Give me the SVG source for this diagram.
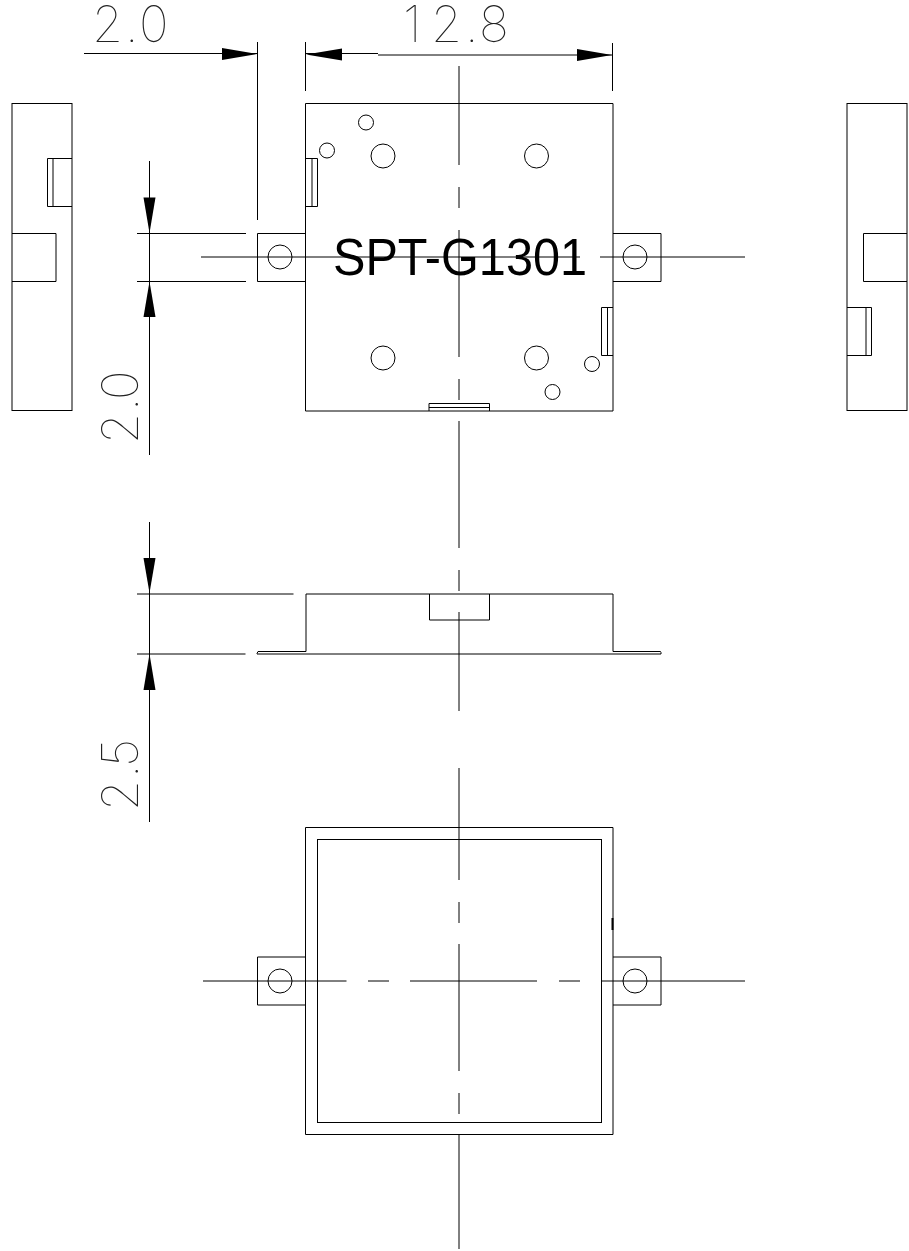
<svg xmlns="http://www.w3.org/2000/svg" width="909" height="1251" viewBox="0 0 909 1251">
<style>
.l{fill:none;stroke:#000;stroke-width:1}
.a{fill:#000;stroke:none}
.d{font-family:"Inter","Roboto","Liberation Sans",sans-serif;font-weight:100;font-size:50px;fill:#222}
.t{font-family:"Liberation Sans",Arial,sans-serif;font-size:51px;fill:#000}
</style>
<rect width="909" height="1251" fill="#fff"/>
<g id="left-view" class="l">
<rect x="12" y="103.5" width="60" height="307"/>
<path d="M72 158.5H47.5V206.500H72M53 158.5V206.500M12 233.500H56V281.500H12"/>
</g>
<g id="right-view" class="l">
<rect x="847" y="103.5" width="60" height="307"/>
<path d="M907 233.500H863.500V281.500H907M847 307.500H871.500V355.500H847M866 307.500V355.500"/>
</g>
<g id="top-view" class="l">
<path d="M305.500 103.500H613V411H305.500Z"/>
<path d="M305.500 233.500H257.500V281.500H305.500M613 233.500H661V281.500H613"/>
<circle cx="280" cy="257" r="12"/><circle cx="635" cy="257" r="12"/>
<circle cx="383" cy="156" r="12"/><circle cx="536.500" cy="156" r="12"/>
<circle cx="383" cy="358" r="12"/><circle cx="536.500" cy="358" r="12"/>
<circle cx="366" cy="122.500" r="7.500"/><circle cx="327" cy="150.500" r="7.500"/>
<circle cx="592" cy="364" r="7.500"/><circle cx="552.500" cy="392" r="7.500"/>
<path d="M305.500 158.500H317.500V206.500H305.500M312 158.500V206.500"/>
<path d="M613 307.500H601.500V355.500H613M607.500 307.500V355.500"/>
<path d="M429 411V403.500H489.500V411M429 407.500H489.500"/>
</g>
<g id="side-view" class="l">
<path d="M306 651.500V594H613V651.500"/>
<path d="M429.500 594V620H489.500V594"/>
<path d="M306 651.500H258L257 653.500V654H661V652.500L660.500 651.500H613"/>
</g>
<g id="bottom-view" class="l">
<path d="M305.500 827.500H613V1134.500H305.500Z"/>
<rect x="317.500" y="839.500" width="284" height="283"/>
<path d="M305.500 957H257.500V1005H305.500M613 957H661V1005H613"/>
<circle cx="280" cy="981" r="12"/><circle cx="635" cy="981" r="12"/>
<path d="M612.500 918V930" stroke-width="2"/>
</g>
<g id="connectors" class="l">
<path d="M459 66V165M459 187V208M459 230V357M459 379V400M459 421V548M459 570V591M459 612V711M459 768V880M459 902V923M459 944V1071M459 1093V1114M459 1135V1249"/>
<path d="M201 257H580M600 257H745"/>
<path d="M203 981H346.500M368 981H389M410 981H537M559 981H580M601.500 981H745"/>
<path d="M84 53.500H257M306 53.500H378M378 55H612M257.500 42V220M305.500 42V91M612.500 43V91"/>
<path d="M149.500 161V455M149.500 522V822M137 233.500H246M137 281.500H246M137 594H293.500M137 654H245.500"/>
<path class="a" d="M257 54L222 48V60Z"/>
<path class="a" d="M306 54.500L342 48.500V60.500Z"/>
<path class="a" d="M612 55L577 49V61Z"/>
<path class="a" d="M149.500 233L143.500 197.500H155.500Z"/>
<path class="a" d="M149.500 281.500L143.500 317H155.500Z"/>
<path class="a" d="M149.500 593L143.500 558H155.500Z"/>
<path class="a" d="M149.500 654L143.500 690H155.500Z"/>
</g>
<g id="labels">
<text class="d" x="92 125 139" y="42">2.0</text>
<text class="d" x="403 431 465 479" y="42">12.8</text>
<text class="d" transform="translate(138 444) rotate(-90)" x="0 33 44">2.0</text>
<text class="d" transform="translate(138 811) rotate(-90)" x="0 33 44">2.5</text>
<text class="t" x="333" y="275" textLength="254" lengthAdjust="spacingAndGlyphs">SPT-G1301</text>
</g>
</svg>
